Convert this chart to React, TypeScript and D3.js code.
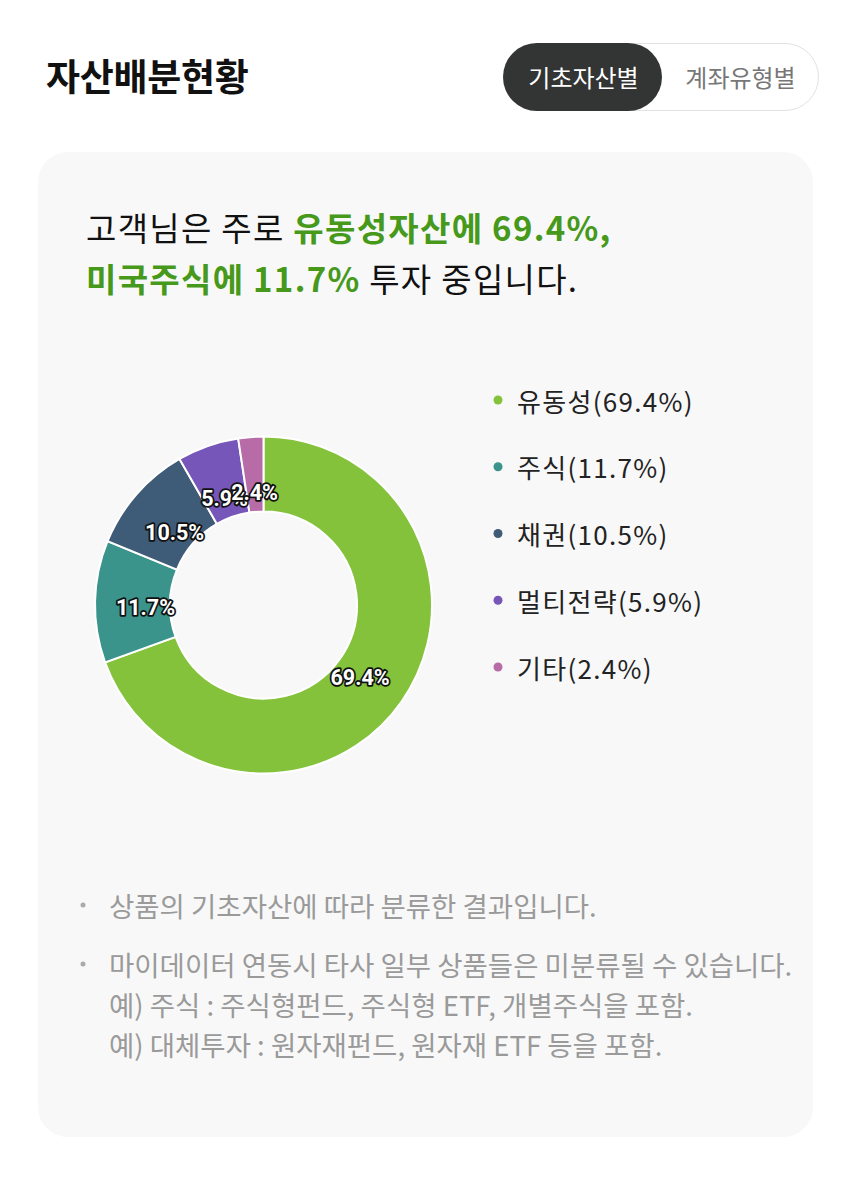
import React from "react";
import * as d3 from "d3";

const categories = ["유동성", "주식", "채권", "멀티전략", "기타"];
const values = [69.4, 11.7, 10.5, 5.9, 2.4];
const colors = ["#84c23c", "#3a948c", "#3e5b77", "#7656b8", "#b76ba7"];
const notes1 = ["상품의 기초자산에 따라 분류한 결과입니다."];
const notes2 = [
  "마이데이터 연동시 타사 일부 상품들은 미분류될 수 있습니다.",
  "예) 주식 : 주식형펀드, 주식형 ETF, 개별주식을 포함.",
  "예) 대체투자 : 원자재펀드, 원자재 ETF 등을 포함.",
];

const FONT = "'Noto Sans CJK KR', 'Noto Sans', sans-serif";

export default function App() {
  const W = 850, H = 1186;
  const cx = 263.5, cy = 605, rOuter = 168.5, rInner = 93.5;
  const pie = d3.pie<number>().sort(null).value((d) => d)(values);
  const arc = d3.arc<d3.PieArcDatum<number>>().innerRadius(rInner).outerRadius(rOuter);
  const labelArc = d3.arc<d3.PieArcDatum<number>>().innerRadius(118).outerRadius(118);
  const legendY = d3.scalePoint<string>().domain(categories).range([400, 667]);

  return (
    <svg width={W} height={H} style={{ position: "absolute", left: 0, top: 0, background: "#fff" }} fontFamily={FONT}>
      <rect x={0} y={0} width={W} height={H} fill="#ffffff" />
      <text x={46} y={91} fontSize={37} fontWeight={700} fill="#111" letterSpacing={-0.3}>자산배분현황</text>
      {/* toggle */}
      <rect x={503.5} y={43.5} width={315} height={67} rx={33.5} fill="#fff" stroke="#e2e2e2" />
      <rect x={503} y={43} width={159} height={68} rx={34} fill="#333534" />
      <text x={583.5} y={76} textAnchor="middle" dominantBaseline="central" fontSize={24} fill="#fff">기초자산별</text>
      <text x={740.5} y={76} textAnchor="middle" dominantBaseline="central" fontSize={24} fill="#777">계좌유형별</text>
      {/* card */}
      <rect x={38} y={152} width={775} height={985} rx={30} fill="#f8f8f8" />
      <text x={86} y={241} fontSize={33} fill="#111" letterSpacing={1.3}>
        <tspan>고객님은 주로 </tspan>
        <tspan fill="#46991a" fontWeight={700}>유동성자산에 69.4%,</tspan>
      </text>
      <text x={86} y={292} fontSize={33} fill="#111" letterSpacing={1.3}>
        <tspan fill="#46991a" fontWeight={700}>미국주식에 11.7%</tspan>
        <tspan> 투자 중입니다.</tspan>
      </text>
      {/* donut */}
      <g transform={`translate(${cx},${cy})`}>
        {pie.map((p, i) => (
          <path key={i} d={arc(p) || ""} fill={colors[i]} stroke="#ffffff" strokeWidth={2} />
        ))}
        {pie.map((p, i) => {
          const [lx, ly] = labelArc.centroid(p);
          return (
            <text key={"l" + i} x={lx} y={ly + 5} textAnchor="middle" dominantBaseline="central"
              fontFamily="Roboto, sans-serif" fontSize={21.5} fontWeight={700} fill="#fff"
              stroke="#111" strokeWidth={3.5} paintOrder="stroke" strokeLinejoin="round">
              {values[i].toFixed(1)}%
            </text>
          );
        })}
      </g>
      {/* legend */}
      {categories.map((c, i) => (
        <g key={"lg" + i}>
          <circle cx={498} cy={legendY(c)!} r={4.5} fill={colors[i]} />
          <text x={517} y={legendY(c)!} dominantBaseline="central" fontSize={26} fill="#222" letterSpacing={1.3}>
            {c}({values[i].toFixed(1)}%)
          </text>
        </g>
      ))}
      {/* notes */}
      <g fontSize={27.5} fill="#9a9a9a">
        <circle cx={83} cy={905} r={2.5} fill="#aaa" />
        {notes1.map((t, i) => (
          <text key={"n1" + i} x={109} y={905} dominantBaseline="central">{t}</text>
        ))}
        <circle cx={83} cy={964} r={2.5} fill="#aaa" />
        {notes2.map((t, i) => (
          <text key={"n2" + i} x={109} y={964 + i * 40} dominantBaseline="central">{t}</text>
        ))}
      </g>
    </svg>
  );
}
